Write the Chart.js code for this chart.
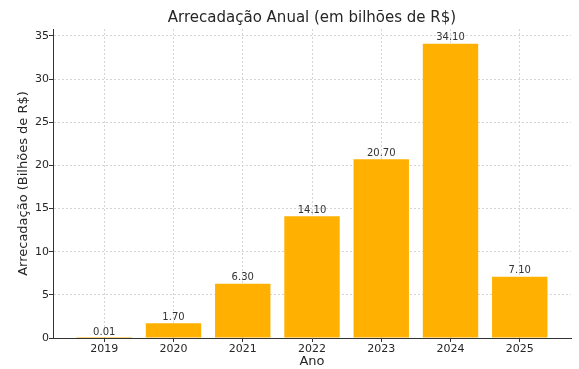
<!DOCTYPE html>
<html>
<head>
<meta charset="utf-8">
<script src="https://cdn.jsdelivr.net/npm/chart.js@4"></script>
<style>
  html, body { margin: 0; padding: 0; background: #fff; }
  #wrap { width: 579px; height: 369px; }
</style>
</head>
<body>
<div id="wrap"><canvas id="chart"></canvas></div>
<script>
// ---- data ----
const years = ['2019', '2020', '2021', '2022', '2023', '2024', '2025'];
const revenue = [0.01, 1.70, 6.30, 14.10, 20.70, 34.10, 7.10];
const yTicks = [0, 5, 10, 15, 20, 25, 30, 35];
const chartTitle = 'Arrecadação Anual (em bilhões de R$)';

const FONT = 'DejaVu Sans';
const TEXT = '#262626';

// value labels above each bar + title centred over the plot area (like matplotlib)
const barLabels = {
  id: 'barLabels',
  afterDatasetsDraw(chart) {
    const ctx = chart.ctx;
    const meta = chart.getDatasetMeta(0);
    ctx.save();
    ctx.font = '10px ' + FONT;
    ctx.fillStyle = '#333';
    ctx.textAlign = 'center';
    ctx.textBaseline = 'bottom';
    meta.data.forEach((bar, i) => {
      ctx.fillText(revenue[i].toFixed(2), bar.x, bar.y - 1);
    });

    const area = chart.chartArea;
    ctx.font = '15px ' + FONT;
    ctx.fillStyle = TEXT;
    ctx.textBaseline = 'middle';
    ctx.fillText(chartTitle, (area.left + area.right) / 2, 18);
    ctx.restore();
  }
};

const yMax = Math.max(...revenue) * 1.05;

new Chart(document.getElementById('chart'), {
  type: 'bar',
  data: {
    datasets: [{
      data: revenue.map((v, i) => ({ x: i, y: v })),
      backgroundColor: '#FFB000',
      borderWidth: 0,
      barPercentage: 0.8,
      categoryPercentage: 1
    }]
  },
  options: {
    responsive: true,
    maintainAspectRatio: false,
    animation: false,
    layout: { padding: { left: 0, right: 8, top: 29, bottom: 0 } },
    plugins: {
      legend: { display: false },
      tooltip: { enabled: false },
      title: { display: false }
    },
    scales: {
      x: {
        type: 'linear',
        offset: false,
        min: -0.74,
        max: 6.74,
        afterBuildTicks(scale) { scale.ticks = years.map((y, i) => ({ value: i })); },
        afterFit(scale) { scale.height = 31; },
        ticks: {
          autoSkip: false,
          color: TEXT,
          font: { family: FONT, size: 11 },
          padding: 1,
          maxRotation: 0,
          callback: (v) => years[v]
        },
        grid: {
          color: '#d5d5d5',
          tickColor: '#333',
          tickBorderDash: [],
          tickLength: 4,
          offset: false
        },
        border: { display: true, color: '#333', width: 1, dash: [2, 2] },
        title: {
          display: true,
          text: 'Ano',
          color: TEXT,
          font: { family: FONT, size: 13 },
          padding: { top: 0, bottom: 0 }
        }
      },
      y: {
        min: 0,
        max: yMax,
        afterBuildTicks(scale) { scale.ticks = yTicks.map(v => ({ value: v })); },
        afterFit(scale) { scale.width = 53; },
        ticks: {
          color: TEXT,
          font: { family: FONT, size: 11 },
          padding: 0
        },
        grid: {
          color: '#d5d5d5',
          tickColor: '#333',
          tickBorderDash: [],
          tickLength: 4
        },
        border: { display: true, color: '#333', width: 1, dash: [2, 2] },
        title: {
          display: true,
          text: 'Arrecadação (Bilhões de R$)',
          color: TEXT,
          font: { family: FONT, size: 13 },
          padding: { top: 16, bottom: 2 }
        }
      }
    }
  },
  plugins: [barLabels]
});
</script>
</body>
</html>
